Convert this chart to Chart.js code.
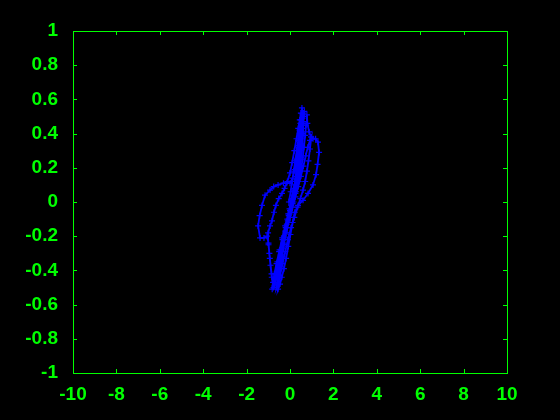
<!DOCTYPE html>
<html lang="en">
<head>
  <meta charset="UTF-8">
  <title>Phase trajectory</title>
  <style>
    html, body {
      margin: 0;
      padding: 0;
      background-color: #000;
    }
    #wrap {
      width: 560px;
      height: 420px;
    }
  </style>
  <script src="https://cdn.jsdelivr.net/npm/chart.js"></script>
</head>
<body>
  <div id="wrap"><canvas id="plot"></canvas></div>
  <script>
    // trajectory, one stroke per line
    const xs = [
      -0.05, 0.03, 0.10, 0.17, 0.24, 0.31, 0.38, 0.44, 0.50, 0.55,
      0.58, 0.55, 0.50, 0.45, 0.40, 0.33, 0.25, 0.16, 0.06, -0.06, -0.20, -0.35, -0.50, -0.62, -0.72, -0.78, -0.82,
      -0.74, -0.64, -0.54, -0.43, -0.32, -0.20, -0.08, 0.04, 0.16, 0.28, 0.40, 0.50, 0.58, 0.64, 0.70, 0.74, 0.78,
      0.80, 0.88, 0.97, 1.06, 1.18, 1.29, 1.34, 1.27, 1.20, 1.06, 0.83, 0.60, 0.37,
      0.22, 0.12, 0.02, -0.08, -0.18, -0.28, -0.38, -0.46, -0.55,
      -0.50, -0.43, -0.36, -0.28, -0.19, -0.10, 0.00, 0.10, 0.20, 0.29, 0.37, 0.44, 0.50, 0.55, 0.59, 0.62,
      0.56, 0.49, 0.41, 0.32, 0.22, 0.12, 0.00, -0.15, -0.30, -0.55, -0.75, -0.92, -1.15, -1.29, -1.40, -1.47, -1.38,
      -1.20, -1.06, -0.99, -0.95, -0.90, -0.84, -0.76,
      -0.85, -0.93, -0.99, -1.01, -0.92, -0.83, -0.74, -0.65, -0.52, -0.37,
      -0.25, -0.12, 0.00, 0.10, 0.20, 0.30, 0.38, 0.45, 0.50,
      0.48, 0.45, 0.41, 0.36, 0.30, 0.23, 0.14, 0.04, -0.08, -0.22, -0.36, -0.48, -0.58, -0.66, -0.72,
      -0.64, -0.55, -0.45, -0.35, -0.24, -0.12, 0.00, 0.12, 0.25, 0.38, 0.50, 0.62, 0.72, 0.82, 0.92, 0.98,
      0.92, 0.85, 0.78, 0.70, 0.60, 0.48, 0.35, 0.20, 0.05, -0.10, -0.22, -0.34, -0.46, -0.56, -0.62,
      -0.56, -0.48, -0.40, -0.31, -0.22, -0.12, -0.02, 0.08, 0.18, 0.28, 0.37, 0.45, 0.52, 0.58, 0.63, 0.66,
      0.62, 0.60, 0.56, 0.50, 0.43, 0.35, 0.25, 0.12, -0.02, -0.15, -0.28, -0.40, -0.52, -0.62, -0.70
    ];
    const ys = [
      0.00, 0.06, 0.12, 0.18, 0.24, 0.30, 0.36, 0.42, 0.48, 0.55,
      0.49, 0.43, 0.37, 0.31, 0.24, 0.17, 0.10, 0.04, -0.02, -0.08, -0.15, -0.22, -0.29, -0.36, -0.42, -0.47, -0.51,
      -0.47, -0.42, -0.37, -0.31, -0.25, -0.18, -0.12, -0.06, 0.00, 0.06, 0.12, 0.18, 0.25, 0.32, 0.39, 0.45, 0.51,
      0.46, 0.41, 0.38, 0.37, 0.37, 0.35, 0.29, 0.22, 0.16, 0.10, 0.05, 0.01, -0.02,
      -0.06, -0.12, -0.19, -0.26, -0.33, -0.39, -0.44, -0.48, -0.51,
      -0.45, -0.39, -0.32, -0.25, -0.18, -0.11, -0.05, 0.01, 0.07, 0.13, 0.20, 0.27, 0.34, 0.41, 0.47, 0.52,
      0.46, 0.39, 0.32, 0.25, 0.19, 0.14, 0.11, 0.11, 0.11, 0.10, 0.09, 0.07, 0.04, -0.02, -0.08, -0.14, -0.21,
      -0.21, -0.20, -0.24, -0.30, -0.37, -0.44, -0.50,
      -0.42, -0.33, -0.25, -0.18, -0.14, -0.11, -0.06, -0.02, 0.02, 0.05,
      0.08, 0.12, 0.17, 0.23, 0.30, 0.37, 0.43, 0.48, 0.52,
      0.46, 0.40, 0.33, 0.26, 0.19, 0.12, 0.06, 0.00, -0.07, -0.14, -0.21, -0.28, -0.35, -0.42, -0.49,
      -0.44, -0.39, -0.33, -0.27, -0.21, -0.15, -0.09, -0.03, 0.03, 0.09, 0.15, 0.21, 0.27, 0.32, 0.36, 0.38,
      0.31, 0.24, 0.18, 0.12, 0.07, 0.02, -0.03, -0.09, -0.15, -0.22, -0.29, -0.36, -0.43, -0.48, -0.50,
      -0.44, -0.38, -0.31, -0.24, -0.17, -0.10, -0.04, 0.02, 0.08, 0.15, 0.22, 0.30, 0.38, 0.45, 0.50, 0.53,
      0.47, 0.40, 0.33, 0.26, 0.19, 0.12, 0.05, -0.01, -0.07, -0.13, -0.20, -0.28, -0.36, -0.43, -0.48
    ];
    const xTicks = [-10, -8, -6, -4, -2, 0, 2, 4, 6, 8, 10];
    const yTicks = [-1, -0.8, -0.6, -0.4, -0.2, 0, 0.2, 0.4, 0.6, 0.8, 1];

    const green = '#00ff00';
    const points = xs.map((x, i) => ({ x: x, y: ys[i] }));

    // MATLAB style box with inward ticks on all four sides
    const boxPlugin = {
      id: 'box',
      afterDraw(chart) {
        const ctx = chart.ctx;
        const a = chart.chartArea;
        const sx = chart.scales.x;
        const sy = chart.scales.y;
        ctx.save();
        ctx.strokeStyle = green;
        ctx.lineWidth = 1;
        ctx.strokeRect(a.left + 0.5, a.top + 0.5, a.right - a.left, a.bottom - a.top);
        ctx.beginPath();
        xTicks.forEach(v => {
          const p = Math.round(sx.getPixelForValue(v)) + 0.5;
          ctx.moveTo(p, a.bottom);
          ctx.lineTo(p, a.bottom - 4);
          ctx.moveTo(p, a.top);
          ctx.lineTo(p, a.top + 4);
        });
        yTicks.forEach(v => {
          const p = Math.round(sy.getPixelForValue(v)) + 0.5;
          ctx.moveTo(a.left, p);
          ctx.lineTo(a.left + 4, p);
          ctx.moveTo(a.right, p);
          ctx.lineTo(a.right - 4, p);
        });
        ctx.stroke();
        ctx.restore();
      }
    };

    const tickFont = { family: 'Liberation Sans, Arial, sans-serif', size: 19, weight: 'bold' };
    const fmt = v => String(Math.round(v * 10) / 10);

    new Chart(document.getElementById('plot'), {
      type: 'scatter',
      data: {
        datasets: [{
          data: points,
          showLine: true,
          borderColor: '#0000ff',
          borderWidth: 1.8,
          pointStyle: 'cross',
          pointRadius: 3,
          pointBorderColor: '#0000ff',
          pointBorderWidth: 1.2,
          tension: 0
        }]
      },
      options: {
        responsive: true,
        maintainAspectRatio: false,
        animation: false,
        layout: { padding: { top: 31, right: 53, left: 0, bottom: 0 } },
        plugins: {
          legend: { display: false },
          tooltip: { enabled: false }
        },
        scales: {
          x: {
            type: 'linear',
            min: -10,
            max: 10,
            afterBuildTicks: s => { s.ticks = xTicks.map(v => ({ value: v })); },
            afterFit: s => { s.height = 47; },
            grid: { display: false },
            border: { display: false },
            ticks: { color: green, font: tickFont, padding: 2, maxRotation: 0, autoSkip: false, callback: fmt }
          },
          y: {
            type: 'linear',
            min: -1,
            max: 1,
            afterBuildTicks: s => { s.ticks = yTicks.map(v => ({ value: v })); },
            afterFit: s => { s.width = 73; },
            grid: { display: false },
            border: { display: false },
            ticks: { color: green, font: tickFont, padding: 7, autoSkip: false, callback: fmt }
          }
        }
      },
      plugins: [boxPlugin]
    });
  </script>
</body>
</html>
